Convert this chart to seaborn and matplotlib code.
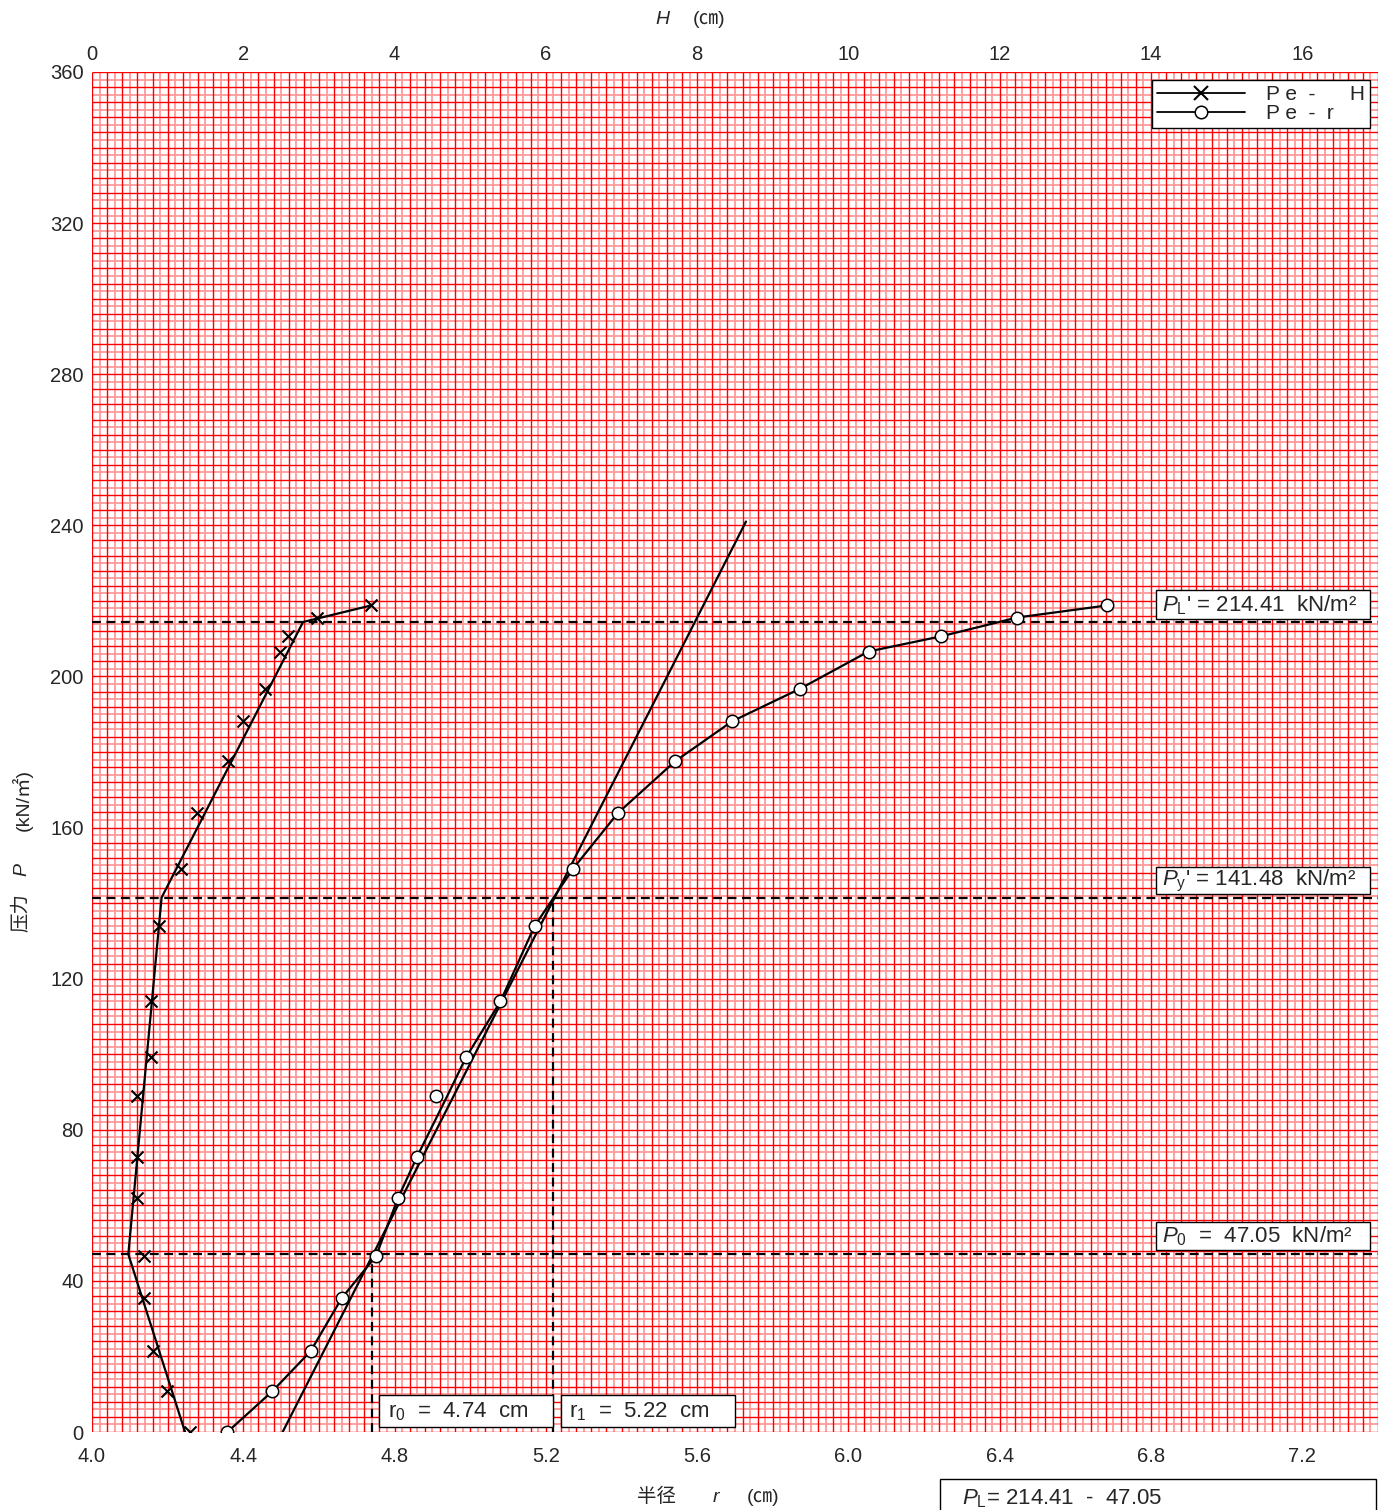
import numpy as np
import matplotlib
matplotlib.use("Agg")
import matplotlib.pyplot as plt
from matplotlib.patches import Rectangle
from matplotlib.lines import Line2D
import seaborn as sns

# pressure steps P (kN/m2), shared by both curves
pressure = [0, 10.8, 21.4, 35.4, 46.6, 61.9, 72.8, 88.9, 99.2, 114.0,
            133.9, 149.0, 163.8, 177.5, 188.1, 196.8, 206.6, 210.6, 215.6, 218.8]
# creep / displacement H (cm)
disp_h = [1.29, 0.99, 0.80, 0.69, 0.69, 0.60, 0.60, 0.60, 0.78, 0.78,
          0.89, 1.18, 1.39, 1.80, 1.99, 2.29, 2.49, 2.59, 2.98, 3.69]
# radius r (cm)
radius = [4.358, 4.477, 4.578, 4.660, 4.751, 4.809, 4.859, 4.910, 4.989, 5.080,
          5.170, 5.271, 5.390, 5.541, 5.692, 5.873, 6.053, 6.244, 6.446, 6.684]

# fitted curves
h_line = [1.23, 0.48, 0.92, 2.79, 3.69]
h_line_p = [0, 47.05, 141.48, 214.41, 218.8]
r_curve = [4.358, 4.477, 4.578, 4.660, 4.751, 4.809, 4.859, 4.939, 4.989, 5.080,
           5.170, 5.271, 5.390, 5.541, 5.692, 5.873, 6.053, 6.244, 6.446, 6.684]
tan_r = [4.504, 5.729]
tan_p = [0, 241.0]

p0, py, pl = 47.05, 141.48, 214.41
r0, r1 = 4.74, 5.22

x_ticks = [4.0, 4.4, 4.8, 5.2, 5.6, 6.0, 6.4, 6.8, 7.2]
h_ticks = [0, 2, 4, 6, 8, 10, 12, 14, 16]
y_ticks = [0, 40, 80, 120, 160, 200, 240, 280, 320, 360]

sns.set_style("white")
plt.rcParams['font.family'] = ['Liberation Sans', 'Noto Sans CJK SC', 'DejaVu Sans']
plt.rcParams['mathtext.fontset'] = 'custom'
plt.rcParams['mathtext.rm'] = 'Liberation Sans'
plt.rcParams['mathtext.it'] = 'Liberation Sans:italic'
plt.rcParams['mathtext.bf'] = 'Liberation Sans:bold'

W, H = 1385, 1510
fig = plt.figure(figsize=(W / 100, H / 100), dpi=100)
ax = fig.add_axes([92 / W, 1 - 1432 / H, (1378 - 92) / W, (1432 - 72) / H])
ax.set_xlim(4.0, 7.4)
ax.set_ylim(0, 360)

# graph-paper grid
xs = np.round(np.arange(4.0, 7.4001, 0.02), 3)
ys = np.arange(0, 361, 2)
ax.vlines(xs[1::2], 0, 360, color='#ff9a9a', lw=1.3, zorder=0)
ax.hlines(ys[1::2], 4.0, 7.4, color='#ff9a9a', lw=1.3, zorder=0)
ax.vlines(xs[::2], 0, 360, color='#ff0000', lw=1.0, zorder=0.5)
ax.hlines(ys[::2], 4.0, 7.4, color='#ff0000', lw=1.0, zorder=0.5)

for s in ax.spines.values():
    s.set_visible(False)

ax.set_xticks(x_ticks)
ax.set_xticklabels([f"{v:.1f}" for v in x_ticks])
ax.set_yticks(y_ticks)
ax.tick_params(length=0, labelsize=14.5)
ax.tick_params(axis='x', pad=11)
ax.tick_params(axis='y', pad=6)

# reference lines
dash = dict(color='black', lw=1.6, ls=(0, (4, 2.5)), zorder=3)
for p in (p0, py, pl):
    ax.axhline(p, **dash)
ax.vlines([r0], 0, p0, **dash)
ax.vlines([r1], 0, py, **dash)

# Pe-r curve and tangent
sns.lineplot(x=tan_r, y=tan_p, sort=False, estimator=None, color='black', lw=1.6, ax=ax)
sns.lineplot(x=r_curve, y=pressure, sort=False, estimator=None, color='black', lw=1.6, ax=ax)
sns.scatterplot(x=radius, y=pressure, marker='o', s=80, facecolor='white',
                edgecolor='black', linewidth=1.1, zorder=5, ax=ax)

# Pe-H on top axis
ax2 = ax.twiny()
ax2.set_xlim(0, 17)
for s in ax2.spines.values():
    s.set_visible(False)
ax2.set_xticks(h_ticks)
ax2.tick_params(length=0, labelsize=14.5, pad=6)
sns.lineplot(x=h_line, y=h_line_p, sort=False, estimator=None, color='black', lw=1.6, ax=ax2)
sns.scatterplot(x=disp_h, y=pressure, marker='x', s=75, color='black', linewidth=1.5,
                zorder=5, ax=ax2)
ax2.set_ylim(0, 360)
ax2.set_xlabel("")
ax2.set_ylabel("")

handles = [Line2D([], [], color='black', lw=1.3, marker='x', ms=10, mew=1.5),
           Line2D([], [], color='black', lw=1.3, marker='o', ms=9, mfc='white', mew=1.1)]
leg = ax2.legend(handles, ["P e  -      H", "P e  -  r"], loc='upper right',
                 bbox_to_anchor=((1370 - 92) / 1286, (1432 - 80) / 1360),
                 borderaxespad=0, fontsize=15, handlelength=4.2, handletextpad=1.0,
                 fancybox=False, framealpha=1, edgecolor='black', borderpad=0.25,
                 labelspacing=0.0)
leg.get_frame().set_linewidth(1.0)


def fp(x, y):
    return x / W, 1 - y / H


def box(x0, y0, x1, y1):
    fig.add_artist(Rectangle(fp(x0, y1), (x1 - x0) / W, (y1 - y0) / H,
                             transform=fig.transFigure, fc='white', ec='black',
                             lw=1.0, zorder=10))


box(1156, 590, 1370, 619)
fig.text(*fp(1162, 605), r"$P_{\rm L}$' = 214.41  kN/m²", fontsize=16, va='center', zorder=11)
box(1156, 867, 1370, 894)
fig.text(*fp(1162, 881), r"$P_{\rm y}$' = 141.48  kN/m²", fontsize=16, va='center', zorder=11)
box(1156, 1222, 1370, 1250)
fig.text(*fp(1162, 1236), r"$P_{\rm 0}$  =  47.05  kN/m²", fontsize=16, va='center', zorder=11)
box(379, 1395, 553, 1427)
fig.text(*fp(388, 1412), r"r$_{\rm 0}$  =  4.74  cm", fontsize=16, va='center', zorder=11)
box(561, 1395, 735, 1427)
fig.text(*fp(569, 1412), r"r$_{\rm 1}$  =  5.22  cm", fontsize=16, va='center', zorder=11)
box(940, 1479, 1376, 1530)
fig.text(*fp(962, 1499), r"$P_{\rm L}$= 214.41  -  47.05", fontsize=16, va='center', zorder=11)

# axis titles
fig.text(*fp(656, 1497), "半径", fontsize=14, ha='center', va='center')
fig.text(*fp(716, 1497), "r", fontsize=14, style='italic', ha='center', va='center')
fig.text(*fp(763, 1497), "(㎝)", fontsize=14, ha='center', va='center')
fig.text(*fp(662, 19), "H", fontsize=14, style='italic', ha='center', va='center')
fig.text(*fp(709, 19), "(㎝)", fontsize=14, ha='center', va='center')
fig.text(*fp(22, 912), "压力", fontsize=14, rotation=90, ha='center', va='center')
fig.text(*fp(22, 869), "P", fontsize=14, style='italic', rotation=90, ha='center', va='center')
fig.text(*fp(22, 800), "(kN/㎡)", fontsize=14, rotation=90, ha='center', va='center')

fig.savefig("out.png", dpi=100)
